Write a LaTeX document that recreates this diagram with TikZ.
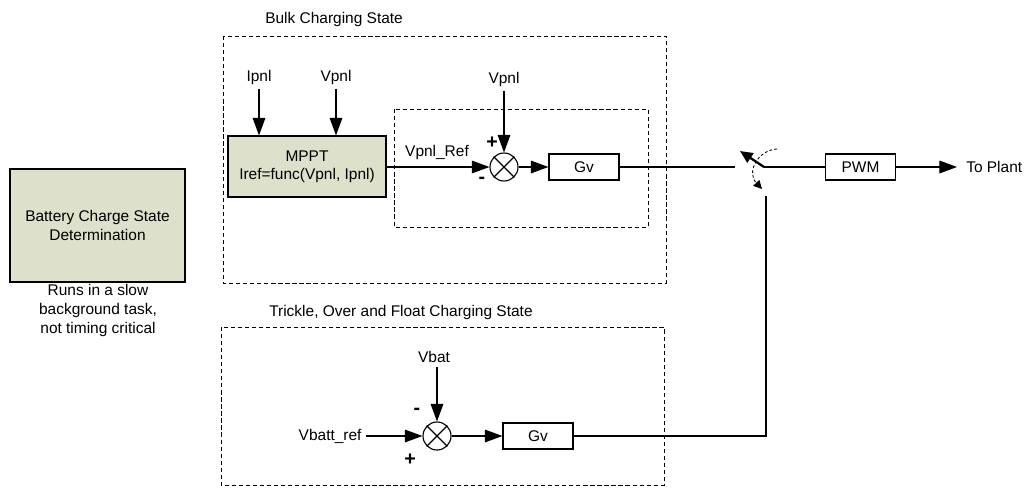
\documentclass[tikz,border=0pt]{standalone}
\usepackage{fontspec}
\setmainfont{Liberation Sans}
\usetikzlibrary{arrows.meta}
\definecolor{statefill}{RGB}{221,224,203}
\newcommand{\ctrlarrowstyle}{-{Triangle[length=12.5pt,width=9pt]}}

\begin{document}
\begin{tikzpicture}[
    x=0.025cm, y=-0.025cm,
    font=\fontsize{11}{13}\selectfont,
    sig/.style={\ctrlarrowstyle, line width=0.8pt},
    wire/.style={line width=0.8pt},
    gainbox/.style={draw, line width=0.8pt, minimum width=1.75cm, minimum height=0.65cm, inner sep=0pt},
    statebox/.style={draw, fill=statefill, line width=0.8pt, inner sep=0pt, align=center},
    sumjn/.style={draw, circle, line width=0.8pt, minimum size=0.7cm, inner sep=0pt},
    region/.style={draw, dash pattern=on 3pt off 2pt, line width=0.6pt},
    signmark/.style={inner sep=0pt, font=\fontsize{14}{14}\selectfont\bfseries},
    lbl/.style={inner sep=3pt}
]
  \useasboundingbox (0,0) rectangle (1025,487);

  % left: background task
  \node[statebox, minimum width=4.375cm, minimum height=2.825cm] (bcsd) at (97.5,225.5) {Battery Charge State\\Determination};
  \node[lbl, inner sep=0pt, align=center, font=\fontsize{11}{13.2}\selectfont] (bcsdnote) at (98,310.5) {Runs in a slow\\background task,\\not timing critical};

  % state regions
  \draw[region] (223,36) rectangle (666,283);
  \draw[region] (394,109) rectangle (648,227);
  \draw[region] (221,327) rectangle (664,485);
  \node[inner sep=0pt, anchor=west] (bulktitle) at (265,19) {Bulk Charging State};
  \node[inner sep=0pt, anchor=west] (trickletitle) at (269,312) {Trickle, Over and Float Charging State};

  % bulk charging loop
  \node[statebox, minimum width=3.95cm, minimum height=1.525cm] (mppt) at (307,166.5) {MPPT\\Iref=func(Vpnl, Ipnl)};
  \node[lbl] (ipnl) at (259,77) {Ipnl};
  \node[lbl] (vpnlin) at (336,77) {Vpnl};
  \node[sumjn] (sumbulk) at (504,167) {};
  \node[lbl] (vpnlfb) at (504,79) {Vpnl};
  \node[inner sep=0pt] (vpnlref) at (437,152) {Vpnl\_Ref};
  \node[signmark] (plusbulk) at (492,143) {+};
  \node[signmark] (minusbulk) at (482,180) {-};
  \node[gainbox] (gvbulk) at (584,167) {Gv};

  \draw[sig] (ipnl.south) -- (ipnl.south |- mppt.north);
  \draw[sig] (vpnlin.south) -- (vpnlin.south |- mppt.north);
  \draw[sig] (vpnlfb.south) -- (sumbulk.north);
  \draw[sig] (mppt.east |- sumbulk) -- (sumbulk.west);
  \draw[sig] (sumbulk.east) -- (gvbulk.west);

  % trickle / over / float loop
  \node[sumjn] (sumbat) at (437,436) {};
  \node[lbl] (vbat) at (434,357) {Vbat};
  \node[lbl, anchor=east] (vbattref) at (366,436) {Vbatt\_ref};
  \node[signmark] (minusbat) at (417,411) {-};
  \node[signmark] (plusbat) at (410,460) {+};
  \node[gainbox] (gvbat) at (538,436) {Gv};

  \draw[sig] (vbat.south -| sumbat) -- (sumbat.north);
  \draw[sig] (vbattref.east) -- (sumbat.west);
  \draw[sig] (sumbat.east) -- (gvbat.west);

  \foreach \s in {sumbulk,sumbat} {
    \draw[wire] (\s.north west) -- (\s.south east) (\s.north east) -- (\s.south west);
  }

  % selector switch and PWM
  \coordinate (swbulk) at (735,167);
  \coordinate (swbat) at (766,196);
  \coordinate (swpivot) at (764,167);
  \coordinate (swtip) at (740,151);
  \node[gainbox] (pwm) at (860.5,167) {PWM};
  \coordinate (plant) at (957,167);
  \node[inner sep=0pt, anchor=west] (plantlbl) at (966,167) {To Plant};

  \draw[wire] (gvbulk.east) -- (swbulk);
  \draw[wire] (gvbat.east) -| (swbat);
  \draw[line width=1.6pt] (swpivot) -- (pwm.west);
  \draw[-{Triangle[length=9pt,width=8pt]}, line width=1.6pt] (swpivot) -- (swtip);
  \draw[-{Triangle[length=6pt,width=6pt]}, dash pattern=on 2pt off 1.5pt, line width=0.6pt]
    (777,149) .. controls (758,150) and (746,172) .. (762,189);
  \draw[sig] (pwm.east) -- (plant);
\end{tikzpicture}
\end{document}
